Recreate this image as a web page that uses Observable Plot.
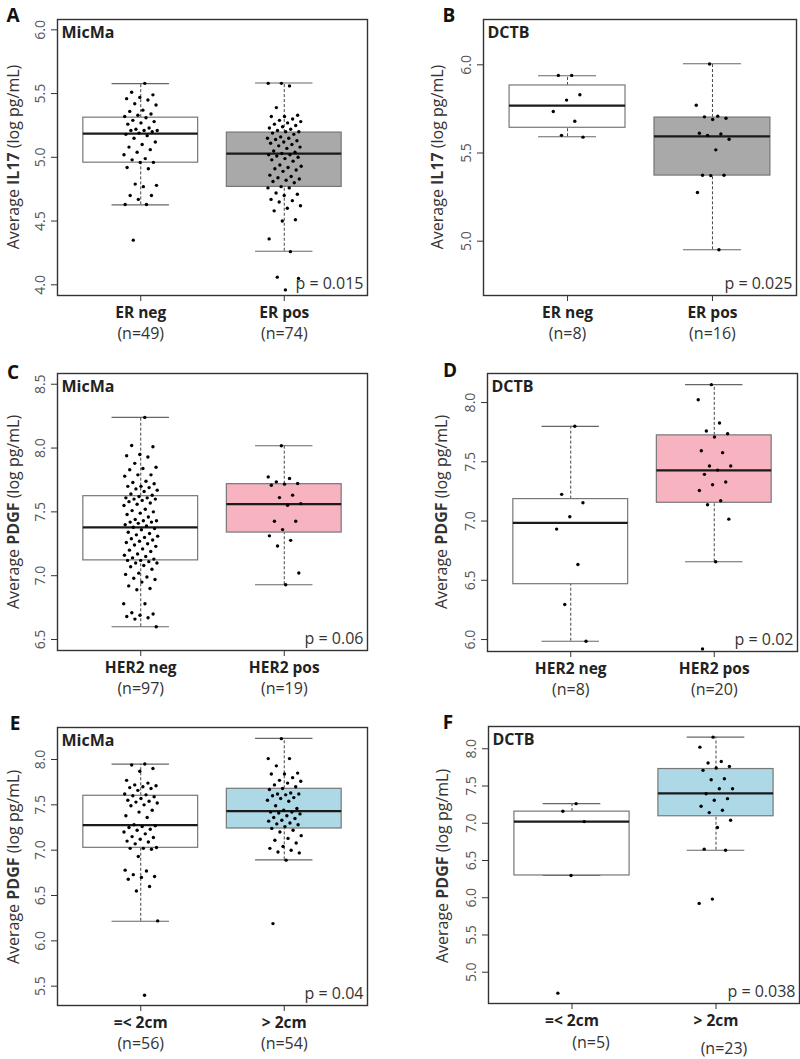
<!DOCTYPE html>
<html><head><meta charset="utf-8">
<script src="https://cdn.jsdelivr.net/npm/d3@7"></script>
<script src="https://cdn.jsdelivr.net/npm/@observablehq/plot@0.6"></script>
<style>
body{margin:0;background:#fff;font-family:"Open Sans",sans-serif;}
#wrap{position:relative;width:800px;height:1059px;overflow:hidden;background:#fff}
#wrap svg{position:absolute;overflow:visible}
</style></head><body><div id="wrap"></div>
<script>
// ---------- Panel A : MicMa, IL17 by ER ----------
const A_groups = ["ER neg", "ER pos"];
const A_n = ["(n=49)", "(n=74)"];
const A_neg = [5.58,5.51,5.49,5.47,5.46,5.45,5.42,5.41,5.37,5.36,5.34,5.33,5.32,5.31,5.29,5.28,5.27,5.26,5.23,5.22,5.21,5.21,5.21,5.20,5.19,5.18,5.17,5.15,5.12,5.10,5.08,5.06,5.04,5.02,4.99,4.98,4.96,4.96,4.92,4.91,4.79,4.78,4.77,4.70,4.70,4.67,4.63,4.63,4.35];
const A_pos = [5.58,5.58,5.56,5.39,5.33,5.32,5.32,5.30,5.29,5.28,5.27,5.26,5.25,5.24,5.23,5.22,5.21,5.20,5.20,5.19,5.18,5.16,5.15,5.15,5.14,5.13,5.12,5.11,5.10,5.09,5.08,5.07,5.05,5.04,5.03,5.02,5.02,5.01,5.00,4.99,4.98,4.97,4.94,4.93,4.92,4.91,4.90,4.89,4.86,4.85,4.84,4.83,4.82,4.81,4.80,4.77,4.76,4.76,4.72,4.71,4.70,4.67,4.66,4.65,4.62,4.60,4.58,4.51,4.50,4.36,4.26,4.06,4.05,3.96];
const A_lo = [4.627, 4.263], A_q1 = [4.958, 4.768], A_med = [5.186, 5.029], A_q3 = [5.311, 5.194], A_hi = [5.578, 5.583];
const A_ticks = [4.0, 4.5, 5.0, 5.5, 6.0];

// ---------- Panel B : DCTB, IL17 by ER ----------
const B_groups = ["ER neg", "ER pos"];
const B_n = ["(n=8)", "(n=16)"];
const B_neg = [5.94,5.94,5.83,5.80,5.735,5.68,5.60,5.59];
const B_pos = [6.005,5.771,5.709,5.705,5.697,5.690,5.612,5.608,5.60,5.578,5.518,5.374,5.374,5.372,5.276,4.951];
const B_lo = [5.592, 4.951], B_q1 = [5.643, 5.372], B_med = [5.769, 5.594], B_q3 = [5.883, 5.701], B_hi = [5.938, 6.006];
const B_ticks = [5.0, 5.5, 6.0];

// ---------- Panel C : MicMa, PDGF by HER2 ----------
const C_groups = ["HER2 neg", "HER2 pos"];
const C_n = ["(n=97)", "(n=19)"];
const C_neg = [8.24,8.02,8.01,7.95,7.94,7.93,7.88,7.85,7.84,7.83,7.79,7.79,7.78,7.74,7.73,7.72,7.70,7.70,7.69,7.68,7.67,7.66,7.64,7.63,
  7.62,7.61,7.61,7.60,7.60,7.59,7.58,7.57,7.56,7.55,7.52,7.51,7.50,7.49,7.48,7.46,7.44,7.43,7.43,7.42,7.42,7.41,7.40,7.39,
  7.38,
  7.37,7.36,7.34,7.33,7.32,7.31,7.30,7.29,7.28,7.27,7.26,7.25,7.24,7.23,7.21,7.20,7.19,7.17,7.16,7.15,7.14,7.13,7.12,7.12,
  7.11,7.10,7.10,7.08,7.07,7.05,7.02,7.01,6.99,6.98,6.97,6.95,6.92,6.90,6.89,6.78,6.78,6.71,6.70,6.69,6.68,6.67,6.66,6.60];
const C_pos = [8.018,7.774,7.761,7.735,7.722,7.717,7.709,7.631,7.612,7.565,7.552,7.427,7.427,7.361,7.312,7.277,7.233,7.021,6.929];
const C_lo = [6.600, 6.929], C_q1 = [7.120, 7.338], C_med = [7.379, 7.560], C_q3 = [7.623, 7.717], C_hi = [8.240, 8.018];
const C_ticks = [6.5, 7.0, 7.5, 8.0, 8.5];

// ---------- Panel D : DCTB, PDGF by HER2 ----------
const D_groups = ["HER2 neg", "HER2 pos"];
const D_n = ["(n=8)", "(n=20)"];
const D_neg = [7.80,7.225,7.154,7.036,6.932,6.633,6.296,5.986];
const D_pos = [8.151,8.024,7.827,7.760,7.737,7.709,7.593,7.577,7.464,7.464,7.43,7.394,7.329,7.306,7.258,7.171,7.137,7.016,6.656,5.921];
const D_lo = [5.986, 6.656], D_q1 = [6.467, 7.154], D_med = [6.985, 7.427], D_q3 = [7.185, 7.723], D_hi = [7.799, 8.151];
const D_ticks = [6.0, 6.5, 7.0, 7.5, 8.0];

// ---------- Panel E : MicMa, PDGF by tumour size ----------
const E_groups = ["=< 2cm", "> 2cm"];
const E_n = ["(n=56)", "(n=54)"];
const E_le = [7.95,7.94,7.90,7.87,7.77,7.74,7.72,7.71,7.70,7.69,7.68,7.66,7.62,7.61,
  7.60,7.59,7.57,7.55,7.54,7.53,7.52,7.50,7.49,7.44,7.42,7.38,7.36,7.28,
  7.27,7.26,7.25,7.23,7.22,7.20,7.18,7.15,7.14,7.12,7.10,7.09,7.07,7.03,
  7.02,7.02,7.01,6.93,6.78,6.77,6.73,6.71,6.70,6.68,6.60,6.55,6.22,5.40];
const E_gt = [8.23,8.01,8.01,7.93,7.85,7.84,7.84,7.80,7.77,7.76,7.74,7.72,7.70,7.68,
  7.67,7.63,7.62,7.62,7.61,7.60,7.58,7.57,7.55,7.54,7.49,7.46,7.44,
  7.42,7.42,7.41,7.40,7.38,7.36,7.35,7.33,7.32,7.30,7.29,7.28,7.26,
  7.24,7.22,7.20,7.16,7.13,7.11,7.08,7.04,7.02,7.00,6.98,6.97,6.89,6.19];
const E_lo = [6.216, 6.893], E_q1 = [7.026, 7.239], E_med = [7.276, 7.430], E_q3 = [7.600, 7.677], E_hi = [7.949, 8.233];
const E_ticks = [5.5, 6.0, 6.5, 7.0, 7.5, 8.0];

// ---------- Panel F : DCTB, PDGF by tumour size ----------
const F_groups = ["=< 2cm", "> 2cm"];
const F_n = ["(n=5)", "(n=23)"];
const F_le = [7.263,7.161,7.022,6.299,4.719];
const F_gt = [8.156,8.022,7.830,7.808,7.763,7.741,7.710,7.598,7.585,7.464,7.464,7.397,7.330,7.308,7.228,7.174,7.143,7.040,6.942,6.652,6.638,5.982,5.924];
const F_lo = [6.299, 6.638], F_q1 = [6.299, 7.094], F_med = [7.022, 7.402], F_q3 = [7.156, 7.728], F_hi = [7.263, 8.156];
const F_ticks = [5.0, 5.5, 6.0, 6.5, 7.0, 7.5, 8.0];

// ---------- panel assembly (layout / style) ----------
const panels = [
  {letter:"A", set:"MicMa", marker:"IL17", p:"p = 0.015", groups:A_groups, n:A_n, pts:[A_neg,A_pos], lo:A_lo,q1:A_q1,med:A_med,q3:A_q3,hi:A_hi, ticks:A_ticks,
   fills:["#ffffff","#a9a9a9"], ydom:[3.916,6.081], left:0, top:0, h:350, frame:[57,19,367,295], yt:[13,157], lt:[13,15]},
  {letter:"B", set:"DCTB", marker:"IL17", p:"p = 0.025", groups:B_groups, n:B_n, pts:[B_neg,B_pos], lo:B_lo,q1:B_q1,med:B_med,q3:B_q3,hi:B_hi, ticks:B_ticks,
   fills:["#ffffff","#a9a9a9"], ydom:[4.692,6.257], left:400, top:0, h:350, frame:[483,19,796,295], yt:[437,157], lt:[449,15]},
  {letter:"C", set:"MicMa", marker:"PDGF", p:"p = 0.06", groups:C_groups, n:C_n, pts:[C_neg,C_pos], lo:C_lo,q1:C_q1,med:C_med,q3:C_q3,hi:C_hi, ticks:C_ticks,
   fills:["#ffffff","#f7b3c0"], ydom:[6.414,8.584], left:0, top:350, h:355, frame:[57,373,367,650], yt:[13,512], lt:[13,372]},
  {letter:"D", set:"DCTB", marker:"PDGF", p:"p = 0.02", groups:D_groups, n:D_n, pts:[D_neg,D_pos], lo:D_lo,q1:D_q1,med:D_med,q3:D_q3,hi:D_hi, ticks:D_ticks,
   fills:["#ffffff","#f7b3c0"], ydom:[5.899,8.245], left:400, top:350, h:355, frame:[487,373,797,651], yt:[441,512], lt:[450,370]},
  {letter:"E", set:"MicMa", marker:"PDGF", p:"p = 0.04", groups:E_groups, n:E_n, pts:[E_le,E_gt], lo:E_lo,q1:E_q1,med:E_med,q3:E_q3,hi:E_hi, ticks:E_ticks,
   fills:["#ffffff","#add8e6"], ydom:[5.287,8.353], left:0, top:705, h:354, frame:[57,727,367,1005], yt:[13,867], lt:[15,723]},
  {letter:"F", set:"DCTB", marker:"PDGF", p:"p = 0.038", groups:F_groups, n:F_n, pts:[F_le,F_gt], lo:F_lo,q1:F_q1,med:F_med,q3:F_q3,hi:F_hi, ticks:F_ticks,
   fills:["#ffffff","#add8e6"], ydom:[4.580,8.299], left:400, top:705, h:354, frame:[488,726,799,1003], yt:[442,866], lt:[448,722],
   ndx:[19,8], ndy:[39,45]}
];

const jit = i => ((((i + 1) * 0.6180339887) % 1) - 0.5) * 0.24;
const FONT = "'Open Sans', 'DejaVu Sans', sans-serif";
const wrap = document.getElementById("wrap");

for (const P of panels) {
  const [fl, ft, fr, fb] = P.frame;
  const dots = [];
  P.pts.forEach((arr, g) => arr.forEach((v, i) => dots.push({x: g + 1 + jit(i + g * 11), y: v})));
  const boxes = P.groups.map((name, g) => ({x: g + 1, lo: P.lo[g], q1: P.q1[g], med: P.med[g], q3: P.q3[g], hi: P.hi[g], fill: P.fills[g]}));
  const labels = P.groups.map((name, g) => ({x: g + 1, name, n: P.n[g], ndx: P.ndx ? P.ndx[g] : 0, ndy: P.ndy ? P.ndy[g] : 38}));
  const nMarks = labels.map(l => Plot.text([l], {x: "x", text: "n", frameAnchor: "bottom", dy: l.ndy, dx: l.ndx,
    lineAnchor: "middle", fontSize: 16, fill: "#333"}));
  const chart = Plot.plot({
    width: 400, height: P.h,
    marginLeft: fl - P.left, marginRight: P.left + 400 - fr,
    marginTop: ft - P.top, marginBottom: P.top + P.h - fb,
    x: {domain: [0.42, 2.58], axis: null},
    y: {domain: P.ydom, axis: null},
    color: {type: "identity"},
    style: {fontFamily: FONT, background: "transparent", color: "#222"},
    marks: [
      Plot.ruleX(boxes, {x: "x", y1: "lo", y2: "q1", stroke: "#444", strokeDasharray: "3,2", strokeWidth: 1}),
      Plot.ruleX(boxes, {x: "x", y1: "q3", y2: "hi", stroke: "#444", strokeDasharray: "3,2", strokeWidth: 1}),
      Plot.ruleY(boxes, {y: "lo", x1: d => d.x - 0.2, x2: d => d.x + 0.2, stroke: "#666", strokeWidth: 1.1}),
      Plot.ruleY(boxes, {y: "hi", x1: d => d.x - 0.2, x2: d => d.x + 0.2, stroke: "#666", strokeWidth: 1.1}),
      Plot.rect(boxes, {x1: d => d.x - 0.4, x2: d => d.x + 0.4, y1: "q1", y2: "q3", fill: "fill", stroke: "#777", strokeWidth: 1.2}),
      Plot.ruleY(boxes, {y: "med", x1: d => d.x - 0.4, x2: d => d.x + 0.4, stroke: "#1a1a1a", strokeWidth: 2.2}),
      Plot.dot(dots, {x: "x", y: "y", r: 1.7, fill: "#000", stroke: "none"}),
      Plot.frame({stroke: "#333", strokeWidth: 1.4}),
      Plot.axisY({ticks: P.ticks, tickSize: 6, tickFormat: () => "", label: null, stroke: "#333"}),
      Plot.text(P.ticks, {y: d => d, text: d => d.toFixed(1), frameAnchor: "left", dx: -17, rotate: -90,
        textAnchor: "middle", lineAnchor: "middle", fontSize: 14, fill: "#555"}),
      Plot.axisX({ticks: [1, 2], tickSize: 6, tickFormat: () => "", label: null, stroke: "#333"}),
      Plot.text(labels, {x: "x", text: "name", frameAnchor: "bottom", dy: 18, lineAnchor: "middle",
        fontSize: 15.5, fontWeight: "bold", fill: "#222"}),
      ...nMarks,
      Plot.text([P.set], {frameAnchor: "top-left", dx: 4, dy: 13, lineAnchor: "middle", textAnchor: "start",
        fontSize: 16, fontWeight: "bold", fill: "#222"}),
      Plot.text([P.p], {frameAnchor: "bottom-right", dx: -4, dy: -12, lineAnchor: "middle", textAnchor: "end",
        fontSize: 16, fill: "#333"})
    ]
  });
  chart.style.left = P.left + "px";
  chart.style.top = P.top + "px";
  const svg = d3.select(chart);
  const yt = svg.append("text")
    .attr("transform", `translate(${P.yt[0] - P.left},${P.yt[1] - P.top}) rotate(-90)`)
    .attr("text-anchor", "middle").attr("dy", "0.35em")
    .style("font-family", FONT).style("font-size", "16px").attr("fill", "#333");
  yt.append("tspan").text("Average ");
  yt.append("tspan").style("font-weight", "bold").text(P.marker);
  yt.append("tspan").text(" (log pg/mL)");
  svg.append("text")
    .attr("x", P.lt[0] - P.left).attr("y", P.lt[1] - P.top).attr("dy", "0.35em")
    .attr("text-anchor", "middle")
    .style("font-family", FONT).style("font-size", "19px").style("font-weight", "bold").attr("fill", "#111")
    .text(P.letter);
  wrap.appendChild(chart);
}
</script>
</body></html>
